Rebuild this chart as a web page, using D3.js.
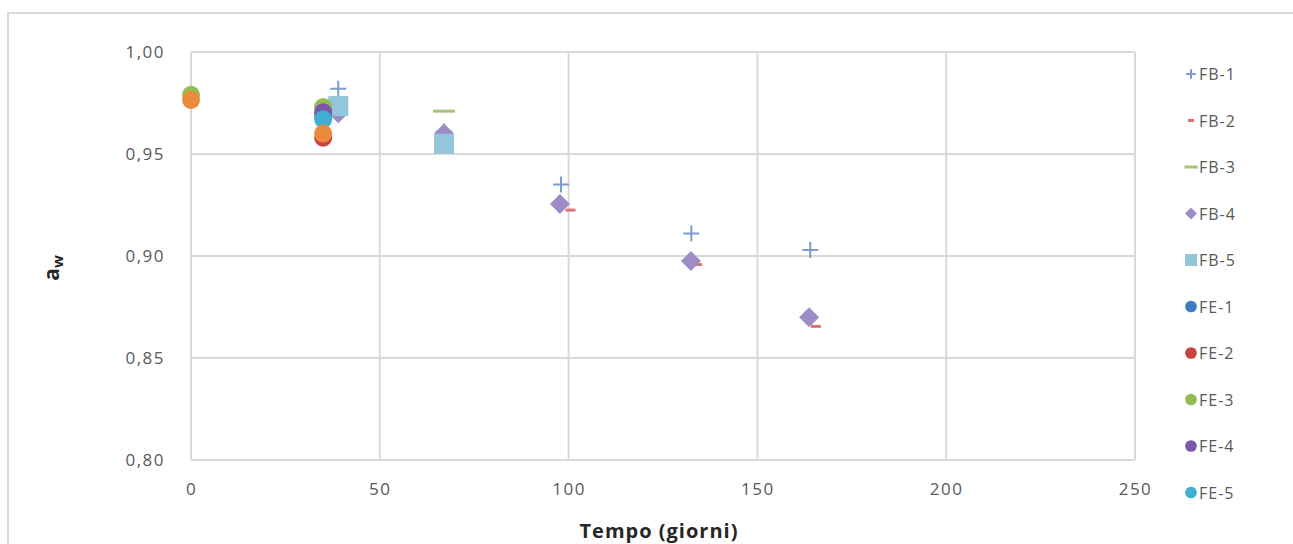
<!DOCTYPE html>
<html><head><meta charset="utf-8">
<script src="https://cdn.jsdelivr.net/npm/d3@7"></script>
<style>body{margin:0;background:#fff;}svg{display:block;font-family:"Open Sans",Calibri,sans-serif;}</style>
</head><body><svg id="c" width="1293" height="544"></svg>
<script>
const xTicks = [0, 50, 100, 150, 200, 250];
const yTicks = [0.80, 0.85, 0.90, 0.95, 1.00];
const seriesNames = ["FB-1","FB-2","FB-3","FB-4","FB-5","FE-1","FE-2","FE-3","FE-4","FE-5","FE-6"];
const legendNames = ["FB-1","FB-2","FB-3","FB-4","FB-5","FE-1","FE-2","FE-3","FE-4","FE-5"];
const seriesShapes = ["plus","dashS","dashL","diamond","square","circle","circle","circle","circle","circle","circle"];
const seriesColors = ["#7b9bd2","#d9746f","#a6c477","#9d8cc6","#93c6da","#3f7dc2","#c7443f","#92bd55","#7a57a9","#41b0d0","#ea8a3c"];
// x = giorni, y = a_w
const fb1 = [[39,0.982],[67,0.961],[98,0.935],[132.5,0.911],[164,0.903]];
const fb2 = [[100.5,0.9225],[134,0.8958],[165.5,0.8655]];
const fb3 = [[67,0.971]];
const fb4 = [[39,0.970],[67,0.960],[97.7,0.9255],[132.4,0.8975],[163.7,0.870]];
const fb5 = [[39,0.9735],[67,0.955]];
const fe1 = [[35,0.969]];
const fe2 = [[35,0.958]];
const fe3 = [[0,0.979],[35,0.973]];
const fe4 = [[35,0.9705]];
const fe5 = [[35,0.967]];
const fe6 = [[0,0.9765],[35,0.960]];
const seriesData = [fb1,fb2,fb3,fb4,fb5,fe1,fe2,fe3,fe4,fe5,fe6];

const svg = d3.select("#c");
svg.append("rect").attr("x",8).attr("y",13).attr("width",1300).attr("height",560)
  .attr("fill","#fff").attr("stroke","#d9d9d9").attr("stroke-width",2);

const x = d3.scaleLinear().domain([0,250]).range([191,1135]);
const y = d3.scaleLinear().domain([0.80,1.00]).range([460,52]);
const grid = "#d9d9d9";
const g = svg.append("g");
g.selectAll(".vg").data(xTicks).join("line").attr("x1",d=>x(d)).attr("x2",d=>x(d))
  .attr("y1",y(1)).attr("y2",y(0.8)).attr("stroke",grid).attr("stroke-width",2);
g.selectAll(".hg").data(yTicks).join("line").attr("y1",d=>y(d)).attr("y2",d=>y(d))
  .attr("x1",x(0)).attr("x2",x(250)).attr("stroke",grid).attr("stroke-width",2);

const xAxis = d3.axisBottom(x).tickValues(xTicks).tickSize(0).tickPadding(23).tickFormat(d3.format("d"));
const ax = svg.append("g").attr("transform",`translate(0,${y(0.8)})`).call(xAxis);
ax.select(".domain").remove();
ax.selectAll("text").attr("font-size",17).attr("letter-spacing",1.5).attr("fill","#595959").attr("font-family","Open Sans, sans-serif");
const yAxis = d3.axisLeft(y).tickValues(yTicks).tickSize(0).tickPadding(26).tickFormat(d=>d.toFixed(2).replace(".",","));
const ay = svg.append("g").attr("transform",`translate(${x(0)},0)`).call(yAxis);
ay.select(".domain").remove();
ay.selectAll("text").attr("font-size",17).attr("letter-spacing",1.5).attr("fill","#595959").attr("font-family","Open Sans, sans-serif");

svg.append("text").attr("x",659).attr("y",538).attr("text-anchor","middle").attr("letter-spacing",1)
  .attr("font-size",20).attr("font-weight","bold").attr("fill","#262626").text("Tempo (giorni)");
const yt = svg.append("text").attr("transform","translate(59,268) rotate(-90)").attr("text-anchor","middle")
  .attr("font-size",21).attr("font-weight","bold").attr("fill","#262626");
yt.append("tspan").text("a");
yt.append("tspan").attr("font-size",15).attr("dy",4).text("w");

function drawMarker(sel, shape, color, s){
  if(shape==="circle") sel.append("circle").attr("r",9*s).attr("fill",color);
  else if(shape==="square") sel.append("rect").attr("x",-10*s).attr("y",-10*s).attr("width",20*s).attr("height",20*s).attr("fill",color);
  else if(shape==="diamond") sel.append("path").attr("d",`M0,${-10*s}L${10*s},0L0,${10*s}L${-10*s},0Z`).attr("fill",color);
  else if(shape==="plus") sel.append("path").attr("d",`M${-8*s},0H${8*s}M0,${-8*s}V${8*s}`).attr("stroke",color).attr("stroke-width",2).attr("fill","none");
  else if(shape==="dashS") sel.append("rect").attr("x",-5*s).attr("y",-1.5).attr("width",10*s).attr("height",3).attr("fill",color);
  else if(shape==="dashL") sel.append("rect").attr("x",-11*s).attr("y",-1.5).attr("width",22*s).attr("height",3).attr("fill",color);
}

seriesData.forEach((data,i)=>{
  const sg = svg.append("g");
  data.forEach(d=>{
    const m = sg.append("g").attr("transform",`translate(${x(d[0])},${y(d[1])})`);
    drawMarker(m, seriesShapes[i], seriesColors[i], 1);
  });
});

// legend
const lg = svg.append("g");
legendNames.forEach((n,i)=>{
  const cy = 74 + i*46.5;
  const m = lg.append("g").attr("transform",`translate(1191,${cy})`);
  const sh = seriesShapes[i];
  drawMarker(m, sh, seriesColors[i], sh==="circle"?0.65:0.6);
  lg.append("text").attr("x",1199).attr("y",cy+6).attr("font-size",16).attr("letter-spacing",1)
    .attr("fill","#595959").text(n);
});
</script></body></html>
